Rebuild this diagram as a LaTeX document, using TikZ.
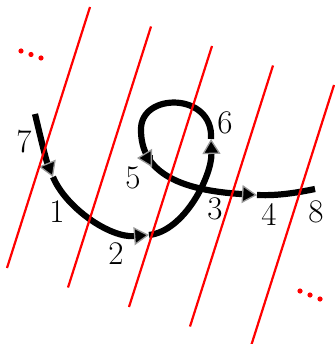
\documentclass[tikz,border=0pt]{standalone}
\usetikzlibrary{arrows.meta}

\begin{document}
\begin{tikzpicture}[
  x=1pt, y=-1pt,
  strand/.style={draw=black, line width=6.2pt},
  cut/.style={draw=red, line width=2.2pt},
  lbl/.style={inner sep=0pt, font=\fontsize{33}{40}\selectfont},
  tipA/.tip={Triangle[length=15pt, width=18pt, line width=1.3pt, fill=black, color=gray!80]}
]
\useasboundingbox (0,0) rectangle (334,344);

\coordinate (p7) at (35,114);
\coordinate (a1) at (53,177);
\coordinate (a2) at (149,235);
\coordinate (a6) at (211,139);
\coordinate (l5) at (141,130);
\coordinate (a4) at (257,195);
\coordinate (p8) at (315,189);
\coordinate (b5) at (152,158);
\coordinate (a5) at (137,158);

\draw[strand, -tipA] (p7) .. controls (40,135) and (46,160) .. (a1);
\draw[strand, -tipA] (a1) .. controls (66,208) and (110,238) .. (a2);
\draw[strand, -tipA] (a2) .. controls (185,231) and (212,175) .. (a6);
\draw[strand] (a6) .. controls (214,92) and (140,92) .. (l5);
\draw[strand, -tipA] (l5) .. controls (141,170) and (175,190) .. (a4);
\draw[strand] (a4) .. controls (280,196) and (300,192) .. (p8);
\draw[strand, -tipA] (b5) -- (a5);

\node[lbl] (n7) at (24,142) {7};
\node[lbl] (n1) at (57,212) {1};
\node[lbl] (n2) at (116,254) {2};
\node[lbl] (n5) at (133,178) {5};
\node[lbl] (n6) at (225,123) {6};
\node[lbl] (n3) at (215,209) {3};
\node[lbl] (n4) at (269,214) {4};
\node[lbl] (n8) at (316,212) {8};

\foreach \i in {0,...,4}
  \draw[cut] ({7+61*\i},{268+19.5*\i}) -- ({90+61*\i},{7+19.5*\i});

\foreach \x/\y in {21/51, 31/54.5, 41/58, 300/291, 310/295, 320/299}
  \fill[red] (\x,\y) circle (2.6);
\end{tikzpicture}
\end{document}
